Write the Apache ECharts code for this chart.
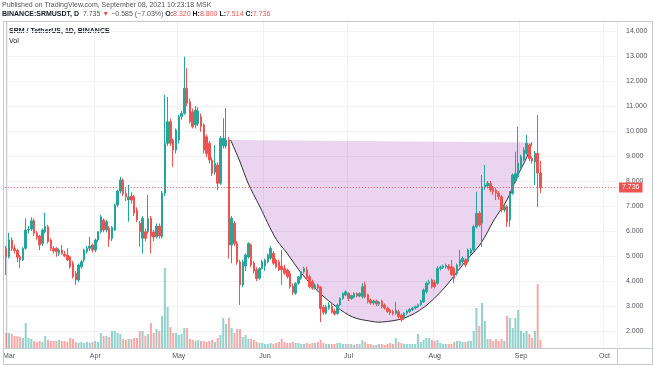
<!DOCTYPE html>
<html><head><meta charset="utf-8">
<script src="https://cdn.jsdelivr.net/npm/echarts@6/dist/echarts.min.js"></script>
<style>html,body{margin:0;padding:0;background:#fff}#c{width:654px;height:366px}</style>
</head><body><div id="c"></div>
<script>
// ---- data ----
const startDate = [2021, 1, 28];   // 28 Feb 2021, first daily candle
const dayCount = 220;               // days shown on the time axis (to 5 Oct)
const monthNames = ['Jan','Feb','Mar','Apr','May','Jun','Jul','Aug','Sep','Oct','Nov','Dec'];
const opens = [5.30,4.97,5.64,5.30,5.22,4.97,4.84,5.31,6.04,6.08,6.41,5.91,5.80,5.50,5.97,6.17,5.64,5.31,5.31,5.11,
5.24,5.08,5.04,4.97,4.71,4.31,4.04,4.57,4.84,5.17,5.31,5.44,5.24,5.64,5.97,6.44,6.04,6.11,5.70,6.04,
7.04,7.60,8.04,7.50,7.24,7.40,7.37,6.84,6.31,5.71,5.97,5.97,6.51,5.96,5.77,6.20,5.77,7.51,9.51,10.37,
9.64,9.24,9.64,10.57,10.71,11.71,11.17,10.77,10.24,10.30,10.57,10.24,9.77,9.51,8.84,8.35,8.64,7.91,9.40,9.40,
9.64,5.44,6.31,5.50,4.76,3.84,4.60,4.96,5.44,4.72,4.45,4.11,4.50,4.60,4.77,4.91,5.11,4.84,4.77,4.60,
4.51,4.44,4.31,3.80,3.51,3.91,4.11,4.37,4.44,4.17,3.97,3.71,3.84,3.75,2.95,2.71,2.91,3.00,2.80,2.70,
3.04,3.30,3.44,3.51,3.30,3.35,3.50,3.40,3.37,3.84,3.45,3.24,3.12,3.20,3.08,3.20,3.04,2.91,2.84,2.78,
2.71,2.77,2.64,2.51,2.71,2.78,2.86,2.92,2.97,3.05,3.17,3.57,3.91,4.04,3.95,3.91,4.51,4.55,4.57,4.60,
4.57,4.51,4.30,4.64,4.77,4.84,4.77,5.11,5.24,6.17,6.71,6.31,7.77,7.80,7.91,7.70,7.64,7.51,7.37,6.84,
6.97,6.44,7.51,8.00,8.17,8.57,8.84,9.11,9.44,8.90,8.76,9.11,8.32];
const highs = [5.40,5.93,5.75,5.45,5.30,5.05,5.35,6.51,6.20,6.55,6.50,6.00,5.85,6.10,6.73,6.25,5.70,5.40,5.35,5.30,
5.44,5.20,5.31,5.00,4.80,4.40,4.70,4.85,5.30,5.40,5.77,5.50,5.70,6.00,6.64,6.50,6.45,6.20,6.20,7.10,
7.65,8.17,8.10,7.70,7.84,7.55,7.45,6.95,6.40,6.60,6.10,7.44,6.60,6.05,6.30,6.30,7.60,11.44,11.36,10.50,
9.70,10.10,10.65,10.80,12.97,12.51,11.30,10.90,11.00,10.95,10.70,10.30,9.85,9.60,8.95,9.44,8.75,9.80,10.51,10.91,
9.75,6.60,6.40,5.60,4.85,4.85,5.10,5.55,5.50,4.80,4.55,4.55,4.85,4.90,5.10,5.40,5.20,4.90,4.85,5.24,
4.65,4.50,4.40,3.90,3.95,4.20,4.40,4.57,4.57,4.25,4.05,3.90,3.90,3.80,3.05,3.05,3.15,3.10,2.90,3.10,
3.35,3.55,3.62,3.55,3.45,3.55,3.55,3.55,3.91,3.97,3.50,3.30,3.25,3.25,3.20,3.25,3.10,2.98,2.90,2.85,
3.17,2.85,2.70,2.75,2.85,2.92,2.96,3.02,3.10,3.25,3.70,3.98,4.05,4.10,4.05,4.60,4.62,4.66,4.70,4.68,
4.84,4.58,4.70,5.24,4.98,4.90,5.30,5.32,6.25,7.57,6.80,8.24,8.64,8.00,8.00,7.80,7.72,7.60,7.45,7.05,
7.05,7.60,8.30,9.17,10.17,9.05,9.35,9.84,9.50,8.98,9.20,10.64,8.80];
const lows = [4.24,4.90,5.20,5.10,4.75,4.51,4.80,5.25,5.90,6.00,5.80,5.65,5.24,5.40,5.90,5.50,5.20,5.10,4.97,5.00,
5.05,4.95,4.80,4.50,4.10,3.84,3.95,4.50,4.75,5.10,5.20,5.15,5.15,5.55,5.90,5.95,5.95,5.37,5.60,6.00,
6.95,7.50,7.40,7.20,6.37,7.10,6.60,6.35,5.37,5.10,5.60,5.90,5.10,5.60,5.70,5.70,5.70,7.40,9.40,9.40,
8.57,9.10,9.50,10.45,10.65,11.00,10.30,10.10,10.10,10.20,9.97,9.10,8.95,8.70,8.20,8.25,7.64,7.85,9.30,9.30,
4.90,4.71,5.40,4.65,3.04,3.75,4.40,4.90,4.55,4.30,4.00,4.05,4.45,4.40,4.70,4.85,4.65,4.50,4.40,3.85,
4.25,4.10,3.70,3.45,3.45,3.85,4.05,4.30,4.05,3.70,3.65,3.65,3.65,2.36,2.65,2.65,2.85,2.70,2.62,2.65,
3.00,3.25,3.40,3.20,3.25,3.30,3.35,3.35,3.30,3.30,3.10,3.05,3.05,3.00,3.00,2.90,2.85,2.72,2.65,2.62,
2.65,2.50,2.37,2.45,2.65,2.72,2.80,2.86,2.92,3.00,3.12,3.50,3.85,3.70,3.70,3.85,4.42,4.48,4.50,4.42,
4.20,3.91,4.22,4.58,4.70,4.55,4.70,5.05,5.18,6.10,6.17,5.37,7.65,7.70,7.55,7.45,7.24,7.25,6.75,6.75,
6.17,6.17,7.45,7.92,8.10,8.50,8.78,9.05,8.80,8.70,7.84,6.96,7.514];
const closes = [4.97,5.64,5.30,5.22,4.95,4.84,5.31,6.04,6.08,6.41,5.91,5.75,5.44,6.04,6.20,5.57,5.31,5.20,5.17,5.24,
5.11,5.00,4.84,4.57,4.17,4.04,4.64,4.77,5.24,5.31,5.40,5.24,5.64,5.97,6.57,6.04,6.37,5.67,6.15,7.04,
7.60,8.04,7.50,7.37,7.37,7.24,6.71,6.44,5.97,6.51,5.71,6.51,5.79,5.76,6.20,5.80,7.51,9.51,10.37,9.51,
9.24,10.04,10.57,10.71,11.71,11.11,10.37,10.17,10.84,10.80,10.17,9.24,9.10,8.84,8.31,8.71,7.91,9.71,9.71,9.64,
5.44,6.51,5.50,4.75,3.84,4.77,5.04,5.50,4.64,4.40,4.10,4.50,4.77,4.84,5.04,5.31,4.71,4.57,4.44,4.45,
4.31,4.17,3.77,3.55,3.91,4.17,4.37,4.50,4.11,3.77,3.71,3.84,3.72,2.90,2.75,2.97,3.04,2.75,2.68,3.04,
3.30,3.50,3.57,3.30,3.42,3.50,3.40,3.50,3.77,3.37,3.17,3.12,3.20,3.08,3.15,2.97,2.92,2.78,2.72,2.70,
2.84,2.57,2.44,2.71,2.80,2.86,2.92,2.97,3.05,3.20,3.64,3.91,3.95,3.77,3.77,4.51,4.56,4.60,4.62,4.50,
4.25,4.11,4.64,4.84,4.91,4.64,5.24,5.24,6.17,6.71,6.24,7.77,7.84,7.91,7.64,7.57,7.51,7.37,6.84,6.97,
6.37,7.51,8.24,8.30,8.71,8.97,9.24,9.51,8.90,8.80,9.11,8.32,7.736];
const volumes = [15,15,14,12,12,11,10,25,10,9, 7,6,7,6,12,8,7,7,7,8, 7,7,6,10,9,6,5,6,5,6,
5,6,7,6,15,12,12,11,17,17, 15,14,9,8,9,9,10,10,17,17, 12,14,25,15,19,17,32,80,41,21,
15,15,13,14,20,20,9,8,7,8, 7,7,6,7,8,6,10,13,30,24, 30,20,15,19,19,11,13,9,9,8,
6,5,5,4,4,5,4,5,6,9, 6,5,5,6,5,5,4,4,5,4, 5,5,6,8,5,4,4,4,4,5,
5,4,4,4,4,3,4,4,8,6, 4,4,3,3,4,4,3,4,5,4, 10,6,5,4,4,4,4,4,14,6,
8,10,10,8,7,8,5,4,4,4, 4,6,7,7,6,6,7,7,17,40, 22,45,27,9,9,7,9,7,9,7,
32,30,20,30,38,17,15,17,14,10, 17,64,8];
const priceTicks = [2,3,4,5,6,7,8,9,10,11,12,13,14];
// cup drawing (day index, price)
const cupIdx = [80.64,84.04,86.90,91.20,96.56,100.86,106.59,112.67,118.76,124.48,130.57,135.22,143.09,150.25,157.41,164.57,170.65,175.30,179.96,183.54,187.12,188.91];
const cupPrice = [9.64,8.76,7.92,6.96,5.76,5.12,4.24,3.52,2.96,2.56,2.40,2.36,2.52,2.96,3.72,4.72,5.52,6.44,7.24,8.16,8.96,9.54];

// ---- build ----
const cats = [];
const t0 = Date.UTC(startDate[0], startDate[1], startDate[2]);
for (let k = 0; k < dayCount; k++) cats.push(new Date(t0 + k * 86400000).toISOString().slice(0, 10));
const isMonthStart = (idx) => cats[idx] && cats[idx].slice(8, 10) === '01';

const UP = '#26a69a', DOWN = '#ef5350';
const candleData = opens.map((o, k) => [o, closes[k], lows[k], highs[k]]);
const volData = volumes.map((v, k) => ({
  value: v,
  itemStyle: { color: closes[k] >= opens[k] ? 'rgba(38,166,154,0.5)' : 'rgba(239,83,80,0.5)' }
}));
const lastClose = closes[closes.length - 1];
const FONT = 'Liberation Sans, Arial, sans-serif';
const TXT = '#50535e';

const chart = echarts.init(document.getElementById('c'), null, { renderer: 'canvas' });
chart.setOption({
  animation: false,
  backgroundColor: '#ffffff',
  textStyle: { fontFamily: FONT },
  grid: { left: 4, right: 37, top: 21, bottom: 18, containLabel: false },
  xAxis: [{
    type: 'category', data: cats, boundaryGap: true,
    axisLine: { show: true, lineStyle: { color: '#c5c8cf', width: 1 } },
    axisTick: { show: false },
    axisLabel: {
      interval: (idx) => isMonthStart(idx),
      formatter: (v) => monthNames[parseInt(v.slice(5, 7), 10) - 1],
      color: TXT, fontSize: 7, margin: 5, fontFamily: FONT
    },
    splitLine: { show: true, interval: (idx) => isMonthStart(idx), lineStyle: { color: '#f0f2f6', width: 1 } }
  }, {
    type: 'value', min: -0.5, max: dayCount - 0.5, show: false
  }],
  yAxis: [{
    type: 'value', position: 'right', min: 1.32, max: 14.4, scale: true,
    axisLine: { show: true, lineStyle: { color: '#c5c8cf' } },
    axisTick: { show: false, customValues: priceTicks },
    axisLabel: { customValues: priceTicks, formatter: (v) => v.toFixed(3), color: TXT, fontSize: 7, margin: 9, fontFamily: FONT },
    splitLine: { show: true, lineStyle: { color: '#f0f2f6' } }
  }, {
    type: 'value', min: 0, max: 327, show: false
  }],
  series: [{
    type: 'custom', xAxisIndex: 1, yAxisIndex: 0, z: 1, silent: true, clip: true,
    data: [[0]],
    renderItem: (params, api) => {
      const pts = cupIdx.map((x, k) => api.coord([x, cupPrice[k]]));
      let d = 'M' + pts[0][0] + ' ' + pts[0][1];
      for (let k = 0; k < pts.length - 1; k++) {
        const p0 = pts[k - 1] || pts[k], p1 = pts[k], p2 = pts[k + 1], p3 = pts[k + 2] || pts[k + 1];
        const c1 = [p1[0] + (p2[0] - p0[0]) / 6, p1[1] + (p2[1] - p0[1]) / 6];
        const c2 = [p2[0] - (p3[0] - p1[0]) / 6, p2[1] - (p3[1] - p1[1]) / 6];
        d += ' C' + c1[0] + ' ' + c1[1] + ' ' + c2[0] + ' ' + c2[1] + ' ' + p2[0] + ' ' + p2[1];
      }
      return { type: 'group', children: [
        { type: 'path', shape: { pathData: d + ' Z' }, style: { fill: 'rgba(156,39,176,0.2)', stroke: null } },
        { type: 'path', shape: { pathData: d }, style: { fill: null, stroke: '#2f2f35', lineWidth: 1 } }
      ] };
    }
  }, {
    type: 'bar', xAxisIndex: 0, yAxisIndex: 1, data: volData, barWidth: 2, z: 2, silent: true
  }, {
    type: 'candlestick', xAxisIndex: 0, yAxisIndex: 0, data: candleData, barWidth: 2, z: 3,
    itemStyle: { color: UP, color0: DOWN, borderColor: UP, borderColor0: DOWN, borderWidth: 1 },
    markLine: {
      silent: true, symbol: ['none', 'none'], animation: false,
      data: [{ yAxis: lastClose }],
      lineStyle: { color: DOWN, type: [1, 2], width: 1 },
      label: {
        position: 'end', distance: 2, formatter: () => lastClose.toFixed(3),
        backgroundColor: DOWN, color: '#fff', fontSize: 7, padding: [2, 3, 1, 3], fontFamily: FONT
      }
    }
  }],
  graphic: [
    { type: 'rect', silent: true, z: 100, shape: { x: 3.5, y: 21.5, width: 649, height: 343 },
      style: { fill: null, stroke: '#c5c8cf', lineWidth: 1 } },
    { type: 'line', silent: true, z: 100, shape: { x1: 617.5, y1: 348, x2: 617.5, y2: 364 },
      style: { stroke: '#c5c8cf', lineWidth: 1 } },
    { type: 'line', silent: true, z: 100, shape: { x1: 617, y1: 348.5, x2: 652, y2: 348.5 },
      style: { stroke: '#c5c8cf', lineWidth: 1 } },
    { type: 'text', silent: true, left: 2, top: 2,
      style: { text: 'Published on TradingView.com, September 08, 2021 10:23:18 MSK', font: '7px ' + FONT, fill: '#555' } },
    { type: 'text', silent: true, left: 2, top: 11,
      style: {
        text: '{b|BINANCE:SRMUSDT, D}  {g|7.735 }{r|▼}{g| −0.585 (−7.03%)} {b|O:}{r|8.320} {b|H:}{r|8.800} {b|L:}{r|7.514} {b|C:}{r|7.736}',
        font: '7px ' + FONT,
        rich: {
          b: { fontWeight: 'bold', fill: '#131722', fontSize: 7, fontFamily: FONT },
          g: { fill: '#555', fontSize: 7, fontFamily: FONT },
          r: { fill: DOWN, fontSize: 7, fontFamily: FONT }
        }
      } },
    { type: 'text', silent: true, left: 9, top: 28,
      style: { text: 'SRM / TetherUS, 1D, BINANCE', font: 'bold 7px ' + FONT, fill: '#131722' } },
    { type: 'text', silent: true, left: 9, top: 38,
      style: { text: 'Vol', font: '7px ' + FONT, fill: '#131722' } }
  ]
});
</script>
</body></html>
